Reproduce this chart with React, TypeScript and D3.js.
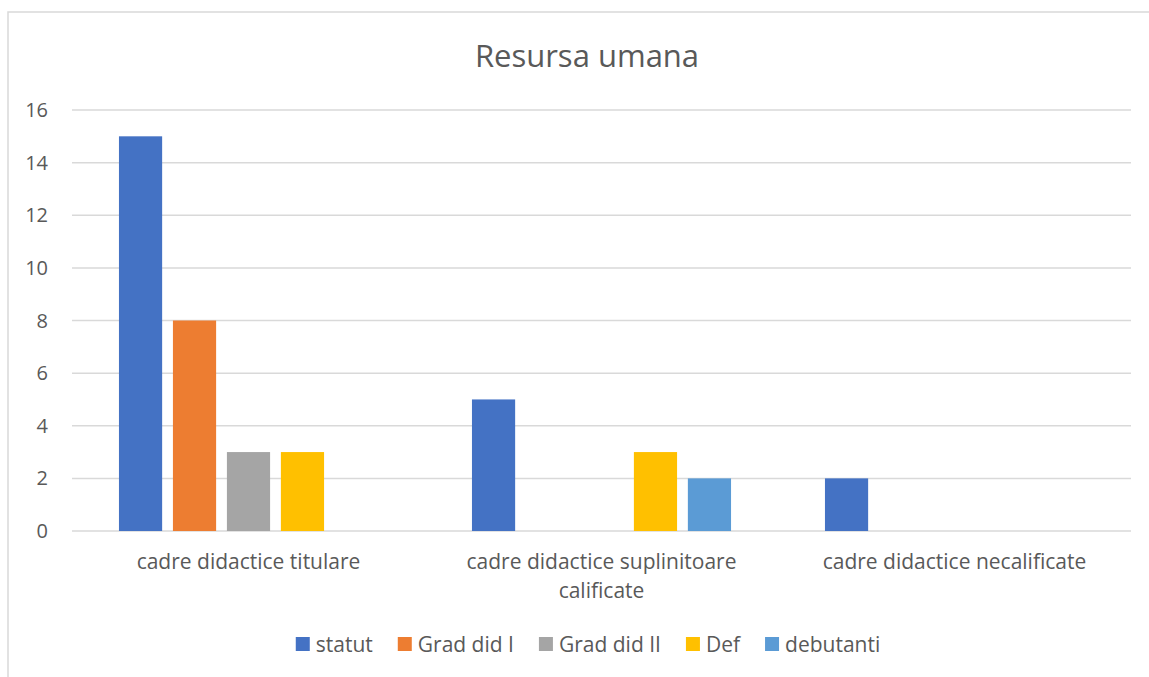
import { useEffect, useRef } from 'react';
import * as d3 from 'd3';

// Chart data
const categories = [
  'cadre didactice titulare',
  'cadre didactice suplinitoare calificate',
  'cadre didactice necalificate',
];
const seriesNames = ['statut', 'Grad did I', 'Grad did II', 'Def', 'debutanti'];
const statut = [15, 5, 2];
const gradI = [8, 0, 0];
const gradII = [3, 0, 0];
const def = [3, 3, 0];
const debutanti = [0, 2, 0];
const yTicks = [0, 2, 4, 6, 8, 10, 12, 14, 16];

const seriesValues = [statut, gradI, gradII, def, debutanti];

const COLORS = ['#4472C4', '#ED7D31', '#A5A5A5', '#FFC000', '#5B9BD5'];
const TEXT = '#595959';
const GRID = '#d9d9d9';
const FONT = '"Open Sans", "Noto Sans", sans-serif';

const W = 1149;
const H = 677;

export default function App() {
  const svgRef = useRef<SVGSVGElement>(null);

  useEffect(() => {
    if (!svgRef.current) return;
    const svg = d3.select(svgRef.current);
    svg.selectAll('*').remove();

    const plot = { left: 72, right: 1131, top: 110, bottom: 531 };

    // chart area border (cut off on the right and bottom)
    svg.append('rect')
      .attr('x', 8)
      .attr('y', 12)
      .attr('width', 1170)
      .attr('height', 700)
      .attr('fill', '#fff')
      .attr('stroke', GRID)
      .attr('stroke-width', 1.5);

    // title
    svg.append('text')
      .attr('x', 587)
      .attr('y', 67)
      .attr('text-anchor', 'middle')
      .attr('font-family', FONT)
      .attr('font-size', 31)
      .attr('fill', TEXT)
      .text('Resursa umana');

    const y = d3.scaleLinear().domain([0, 16]).range([plot.bottom, plot.top]);
    const x0 = d3.scaleBand<string>().domain(categories).range([plot.left, plot.right]);
    const x1 = d3.scaleBand<string>()
      .domain(seriesNames)
      .range([0, x0.bandwidth()])
      .paddingInner(0.2)
      .paddingOuter(0.87);

    // gridlines
    svg.append('g')
      .selectAll('line')
      .data(yTicks)
      .join('line')
      .attr('x1', plot.left)
      .attr('x2', plot.right)
      .attr('y1', (d) => y(d))
      .attr('y2', (d) => y(d))
      .attr('stroke', GRID)
      .attr('stroke-width', 1.5);

    // y tick labels
    svg.append('g')
      .selectAll('text')
      .data(yTicks)
      .join('text')
      .attr('x', 48)
      .attr('y', (d) => y(d))
      .attr('dy', '0.35em')
      .attr('text-anchor', 'end')
      .attr('font-family', FONT)
      .attr('font-size', 20)
      .attr('fill', TEXT)
      .text((d) => d);

    // bars
    seriesNames.forEach((name, si) => {
      svg.append('g')
        .selectAll('rect')
        .data(categories.map((c, ci) => ({ c, v: seriesValues[si][ci] })).filter((d) => d.v > 0))
        .join('rect')
        .attr('x', (d) => (x0(d.c) ?? 0) + (x1(name) ?? 0))
        .attr('y', (d) => y(d.v))
        .attr('width', x1.bandwidth())
        .attr('height', (d) => y(0) - y(d.v))
        .attr('fill', COLORS[si]);
    });

    // category labels with simple word wrap
    const maxW = x0.bandwidth() - 20;
    categories.forEach((cat) => {
      const cx = (x0(cat) ?? 0) + x0.bandwidth() / 2;
      const t = svg.append('text')
        .attr('text-anchor', 'middle')
        .attr('font-family', FONT)
        .attr('font-size', 21)
        .attr('fill', TEXT);
      const words = cat.split(' ');
      let line: string[] = [];
      let lineNo = 0;
      let tspan = t.append('tspan').attr('x', cx).attr('y', 569);
      words.forEach((w) => {
        line.push(w);
        tspan.text(line.join(' '));
        if ((tspan.node() as SVGTSpanElement).getComputedTextLength() > maxW && line.length > 1) {
          line.pop();
          tspan.text(line.join(' '));
          line = [w];
          lineNo += 1;
          tspan = t.append('tspan').attr('x', cx).attr('y', 569 + lineNo * 29).text(w);
        }
      });
    });

    // legend
    const legend = svg.append('g');
    let lx = 0;
    seriesNames.forEach((name, i) => {
      const g = legend.append('g').attr('transform', `translate(${lx},0)`);
      g.append('rect')
        .attr('x', 0)
        .attr('y', 637)
        .attr('width', 14)
        .attr('height', 14)
        .attr('fill', COLORS[i]);
      const txt = g.append('text')
        .attr('x', 20)
        .attr('y', 652)
        .attr('font-family', FONT)
        .attr('font-size', 21)
        .attr('fill', TEXT)
        .text(name);
      const tw = (txt.node() as SVGTextElement).getComputedTextLength();
      lx += 20 + tw + 25;
    });
    const totalW = lx - 25;
    legend.attr('transform', `translate(${588 - totalW / 2},0)`);
  }, []);

  return (
    <svg
      ref={svgRef}
      width={W}
      height={H}
      style={{ position: 'absolute', left: 0, top: 0, background: '#fff' }}
    />
  );
}
